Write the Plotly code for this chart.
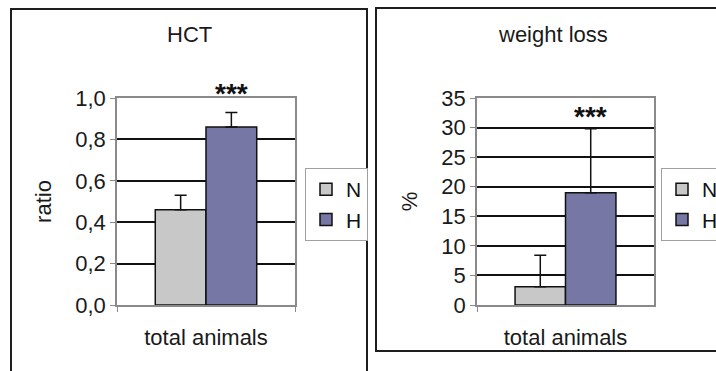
import plotly.graph_objects as go

# ---- data ----
category = ["total animals"]
groups = ["N", "H"]

hct_mean = [0.46, 0.86]
hct_err = [0.07, 0.07]

wl_mean = [3.1, 19.0]
wl_err = [5.3, 10.8]

panel_titles = ["HCT", "weight loss"]
y_titles = ["ratio", "%"]
signif = "***"

# ---- style ----
W, H = 716, 371
colors = {"N": "#c8c8c8", "H": "#7777a6"}
FONT = "Liberation Sans, Arial, sans-serif"
FS = 22
BARGAP = 0.43


def px_x(p):
    return p / W


def px_y(p):
    return 1 - p / H


fig = go.Figure()

panels = [
    dict(means=hct_mean, errs=hct_err, xa="x", ya="y", legend="legend"),
    dict(means=wl_mean, errs=wl_err, xa="x2", ya="y2", legend="legend2"),
]

for p in panels:
    for g, m, e in zip(groups, p["means"], p["errs"]):
        fig.add_trace(go.Bar(
            x=category, y=[m], name=g,
            xaxis=p["xa"], yaxis=p["ya"], legend=p["legend"],
            marker=dict(color=colors[g], line=dict(color="#111111", width=1.5)),
            error_y=dict(type="data", symmetric=False, array=[e], arrayminus=[0],
                         color="#111111", thickness=1.5, width=6),
        ))

axis_common = dict(
    showline=True, linecolor="#8a8a8a", linewidth=1.5, mirror=True,
    ticks="outside", ticklen=5, tickcolor="#8a8a8a", tickwidth=1.2,
    tickfont=dict(family=FONT, size=FS, color="#1a1a1a"),
)

ydom = [px_y(305), px_y(98)]

legend_common = dict(
    xanchor="left", yanchor="top", bgcolor="white",
    bordercolor="#a0a0a0", borderwidth=1, itemwidth=30,
    font=dict(family=FONT, size=21, color="#111111"),
)

fig.update_layout(
    width=W, height=H,
    margin=dict(l=0, r=0, t=0, b=0, autoexpand=False),
    paper_bgcolor="white", plot_bgcolor="white",
    separators=",.",
    barmode="group", bargap=BARGAP, bargroupgap=0,
    font=dict(family=FONT, size=FS, color="#1a1a1a"),
    xaxis=dict(domain=[px_x(117), px_x(295)], anchor="y", type="category",
               tickson="boundaries", showgrid=False, ticklabelstandoff=12,
               **axis_common),
    yaxis=dict(domain=ydom, anchor="x", range=[0, 1.0], dtick=0.2,
               tickformat=".1f", showgrid=True, gridcolor="#111111",
               gridwidth=1.5, zeroline=False,
               title=dict(text=y_titles[0], font=dict(family=FONT, size=FS),
                          standoff=18),
               **axis_common),
    xaxis2=dict(domain=[px_x(477), px_x(654)], anchor="y2", type="category",
                tickson="boundaries", showgrid=False, ticklabelstandoff=12,
                **axis_common),
    yaxis2=dict(domain=ydom, anchor="x2", range=[0, 35], dtick=5,
                showgrid=True, gridcolor="#111111", gridwidth=1.5,
                zeroline=False,
                title=dict(text=y_titles[1], font=dict(family=FONT, size=FS),
                           standoff=18),
                **axis_common),
    legend=dict(x=px_x(305), y=px_y(168), **legend_common),
    legend2=dict(x=px_x(661), y=px_y(168), **legend_common),
    showlegend=True,
)

# panel titles, centred on each framed panel
title_centres = [px_x(189), px_x(553)]
for t, xc in zip(panel_titles, title_centres):
    fig.add_annotation(text=t, x=xc, y=px_y(35), xref="paper", yref="paper",
                       showarrow=False, xanchor="center", yanchor="middle",
                       font=dict(family=FONT, size=FS, color="#1a1a1a"))

# significance marks above the H bar of each panel
h_offset = (1 - BARGAP) / 4
star_shift = [1, -5]
for p, s in zip(panels, star_shift):
    top = p["means"][1] + p["errs"][1]
    fig.add_annotation(text="<b>" + signif + "</b>", x=h_offset, y=top,
                       xref=p["xa"], yref=p["ya"], showarrow=False,
                       xanchor="center", yanchor="bottom", yshift=s,
                       font=dict(family=FONT, size=28, color="#111111"))

# frames around the two panels
fig.add_shape(type="rect", xref="paper", yref="paper",
              x0=px_x(11), x1=px_x(367), y0=-0.1, y1=px_y(9),
              line=dict(color="#1e1e1e", width=2))
fig.add_shape(type="rect", xref="paper", yref="paper",
              x0=px_x(376), x1=1.1, y0=px_y(351), y1=px_y(8),
              line=dict(color="#1e1e1e", width=2))

fig.write_html("out.html")
